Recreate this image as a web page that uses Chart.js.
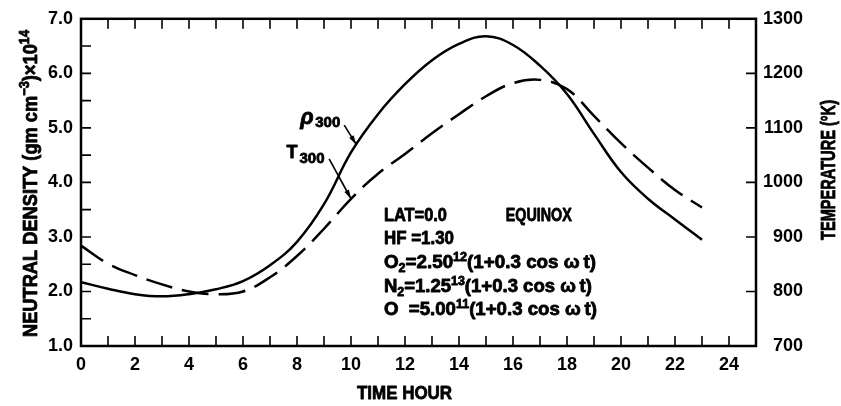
<!DOCTYPE html>
<html>
<head>
<meta charset="utf-8">
<script src="https://cdn.jsdelivr.net/npm/chart.js@4.4.1/dist/chart.umd.min.js"></script>
<style>
  html, body { margin: 0; padding: 0; background: #fff; }
</style>
</head>
<body>
<canvas id="chart" width="841" height="406"></canvas>
<script>
// Diurnal variation at 300 km, one per hour.
const hours = [0, 1, 2, 3, 4, 5, 6, 7, 8, 9, 10, 11, 12, 13, 14, 15, 16, 17, 18, 19, 20, 21, 22, 23];
// rho_300, neutral density x 1e14 (gm cm^-3)
const density = [2.17, 2.05, 1.95, 1.91, 1.95, 2.04, 2.19, 2.48, 2.91, 3.60, 4.55, 5.25,
                 5.80, 6.24, 6.54, 6.68, 6.52, 6.14, 5.62, 4.89, 4.19, 3.70, 3.32, 2.95];
// T_300, temperature (K)
const temperature = [884, 851, 830, 813, 800, 795, 800, 826, 865, 915, 970, 1016,
                     1052, 1090, 1125, 1158, 1182, 1188, 1171, 1122, 1072, 1027, 986, 954];

const hourLabels = [0, 2, 4, 6, 8, 10, 12, 14, 16, 18, 20, 22, 24];
const densityLabels = [1, 2, 3, 4, 5, 6, 7];
const tempLabels = [700, 800, 900, 1000, 1100, 1200, 1300];

const SANS = "'Liberation Sans', Arial, sans-serif";

// text made of runs (for sub/superscripts); squeezed horizontally to a given width
function runsWidth(ctx, runs) {
  let w = 0;
  for (const r of runs) { ctx.font = r.font; w += ctx.measureText(r.t).width; }
  return w;
}
function drawRuns(ctx, x, y, runs, width) {
  const sx = width ? width / runsWidth(ctx, runs) : 1;
  ctx.save();
  ctx.translate(x, y);
  ctx.scale(sx, 1);
  ctx.lineWidth = 0.8;
  ctx.lineJoin = "round";
  let cx = 0;
  for (const r of runs) {
    ctx.font = r.font;
    ctx.fillText(r.t, cx, r.dy || 0);
    ctx.strokeText(r.t, cx, r.dy || 0); // old photo-typeset text is heavier
    cx += ctx.measureText(r.t).width;
  }
  ctx.restore();
}

function arrow(ctx, x1, y1, x2, y2) {
  ctx.lineWidth = 1.6;
  ctx.beginPath(); ctx.moveTo(x1, y1); ctx.lineTo(x2, y2); ctx.stroke();
  const a = Math.atan2(y2 - y1, x2 - x1);
  const c = Math.cos(a), s = Math.sin(a);
  ctx.beginPath();
  ctx.moveTo(x2, y2);
  ctx.lineTo(x2 - 9 * c + 2.6 * s, y2 - 9 * s - 2.6 * c);
  ctx.lineTo(x2 - 9 * c - 2.6 * s, y2 - 9 * s + 2.6 * c);
  ctx.closePath(); ctx.fill();
}

const B18 = "bold 18px " + SANS;
const B12 = "bold 12px " + SANS;
const cosRuns = [
  { t: "(1+0.3 cos ", font: B18 },
  { t: "\u03C9\u2009t)", font: B18 }
];
// [runs, width in px]
const noteLines = [
  [[{ t: "HF =1.30", font: B18 }], 70],
  [[{ t: "O", font: B18 }, { t: "2", font: B12, dy: 4 }, { t: "=2.50", font: B18 }, { t: "12", font: B12, dy: -7 }].concat(cosRuns), 212],
  [[{ t: "N", font: B18 }, { t: "2", font: B12, dy: 4 }, { t: "=1.25", font: B18 }, { t: "13", font: B12, dy: -7 }].concat(cosRuns), 208],
  [[{ t: "O  =5.00", font: B18 }, { t: "11", font: B12, dy: -7 }].concat(cosRuns), 213]
];

const decor = {
  id: "decor",
  afterDraw(chart) {
    const { ctx, chartArea: ca, scales } = chart;
    const x = scales.x, yd = scales.yDen, yt = scales.yTemp;
    ctx.save();
    ctx.strokeStyle = "#000";
    ctx.fillStyle = "#000";

    // inward tick marks on all four sides
    ctx.lineWidth = 1.6;
    ctx.beginPath();
    x.ticks.forEach(t => {
      if (t.value <= 0 || t.value >= 25) return;
      const px = x.getPixelForValue(t.value);
      ctx.moveTo(px, ca.bottom); ctx.lineTo(px, ca.bottom - 10);
      ctx.moveTo(px, ca.top); ctx.lineTo(px, ca.top + 10);
    });
    yd.ticks.forEach(t => {
      if (t.value <= 1 || t.value >= 7) return;
      const py = yd.getPixelForValue(t.value);
      ctx.moveTo(ca.left, py); ctx.lineTo(ca.left + 10, py);
    });
    yt.ticks.forEach(t => {
      if (t.value <= 700 || t.value >= 1300) return;
      const py = yt.getPixelForValue(t.value);
      ctx.moveTo(ca.right, py); ctx.lineTo(ca.right - 10, py);
    });
    ctx.stroke();

    // frame
    ctx.lineWidth = 2.5;
    ctx.strokeRect(ca.left, ca.top, ca.width, ca.height);

    // curve labels with pointers
    const px = h => x.getPixelForValue(h);
    const py = d => yd.getPixelForValue(d);
    ctx.textBaseline = "alphabetic";
    ctx.textAlign = "left";
    drawRuns(ctx, px(8.12), py(5.08), [{ t: "\u03C1", font: "italic bold 22px " + SANS }]);
    drawRuns(ctx, px(8.12) + 15, py(5.08) + 3, [{ t: "300", font: "bold 15px " + SANS }], 25);
    drawRuns(ctx, px(7.61), py(4.45), [{ t: "T", font: "bold 19px " + SANS }], 11);
    drawRuns(ctx, px(7.61) + 13, py(4.45) + 5, [{ t: "300", font: "bold 15px " + SANS }], 25);
    arrow(ctx, px(9.75), py(5.05), px(10.19), py(4.70));
    arrow(ctx, px(9.19), py(4.43), px(10.0), py(3.70));

    // model parameters
    const nx = px(11.22);
    let ny = py(3.30);
    drawRuns(ctx, nx, ny, [{ t: "LAT=0.0", font: B18 }], 63);
    drawRuns(ctx, px(15.73), ny, [{ t: "EQUINOX", font: B18 }], 66);
    noteLines.forEach(([line, w]) => { ny += 23.7; drawRuns(ctx, nx, ny, line, w); });

    // axis titles
    const left = [
      { t: "NEUTRAL DENSITY (gm cm", font: "bold 20px " + SANS },
      { t: "\u22123", font: "bold 14px " + SANS, dy: -8 },
      { t: ")\u00D710", font: "bold 20px " + SANS },
      { t: "14", font: "bold 14px " + SANS, dy: -8 }
    ];
    ctx.save();
    ctx.translate(37, 337);
    ctx.rotate(-Math.PI / 2);
    drawRuns(ctx, 0, 0, left, 307);
    ctx.restore();

    ctx.save();
    ctx.translate(835, 240);
    ctx.rotate(-Math.PI / 2);
    drawRuns(ctx, 0, 0, [{ t: "TEMPERATURE (\u00B0K)", font: "bold 20px " + SANS }], 140);
    ctx.restore();

    drawRuns(ctx, 357, 399, [{ t: "TIME HOUR", font: "bold 19px " + SANS }], 95);
    ctx.restore();
  }
};

const tickFont = { family: SANS, size: 18, weight: "bold" };

new Chart(document.getElementById("chart"), {
  type: "line",
  data: {
    datasets: [
      {
        label: "rho300",
        data: hours.map((h, i) => ({ x: h, y: density[i] })),
        yAxisID: "yDen",
        borderColor: "#000",
        borderWidth: 2.5,
        pointRadius: 0,
        tension: 0.4,
        fill: false
      },
      {
        label: "T300",
        data: hours.map((h, i) => ({ x: h, y: temperature[i] })),
        yAxisID: "yTemp",
        borderColor: "#000",
        borderWidth: 2.5,
        borderDash: [27, 10],
        pointRadius: 0,
        tension: 0.4,
        fill: false
      }
    ]
  },
  options: {
    responsive: false,
    animation: false,
    devicePixelRatio: 1,
    layout: { padding: { top: 17, left: 0, right: 38, bottom: 0 } },
    plugins: { legend: { display: false }, tooltip: { enabled: false } },
    scales: {
      x: {
        type: "linear",
        position: "bottom",
        min: 0, max: 25,
        grid: { display: false, drawTicks: false },
        border: { display: false },
        ticks: {
          stepSize: 1, autoSkip: false, maxRotation: 0, padding: 8,
          color: "#000", font: tickFont,
          callback: v => hourLabels.includes(v) ? String(v) : ""
        },
        afterFit: s => { s.height = 60; }
      },
      yDen: {
        type: "linear",
        position: "left",
        min: 1, max: 7,
        grid: { display: false, drawTicks: false },
        border: { display: false },
        ticks: {
          stepSize: 0.5, autoSkip: false, padding: 8,
          color: "#000", font: tickFont,
          callback: v => densityLabels.includes(v) ? v.toFixed(1) : ""
        },
        afterFit: s => { s.width = 81; }
      },
      yTemp: {
        type: "linear",
        position: "right",
        min: 700, max: 1300,
        grid: { display: false, drawTicks: false },
        border: { display: false },
        ticks: {
          stepSize: 100, autoSkip: false, crossAlign: "far",
          color: "#000", font: tickFont,
          callback: v => tempLabels.includes(v) ? String(v) : ""
        },
        afterFit: s => { s.width = 47; }
      }
    }
  },
  plugins: [decor]
});
</script>
</body>
</html>
